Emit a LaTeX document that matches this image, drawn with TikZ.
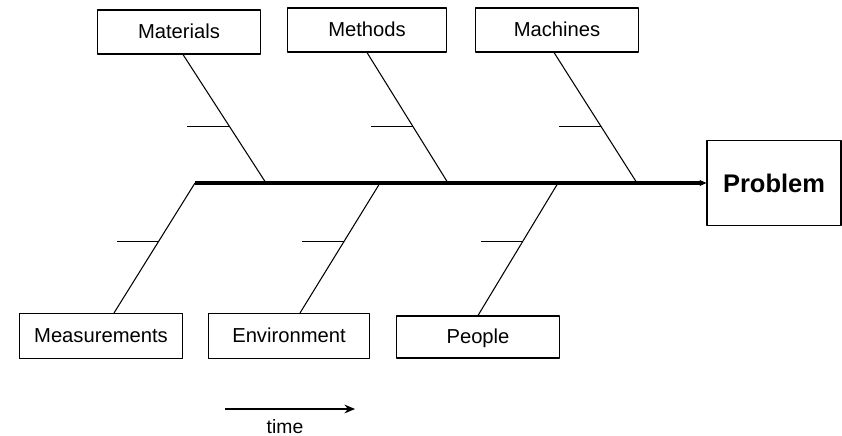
\documentclass[tikz,border=0pt]{standalone}
\usepackage{fontspec}
\setmainfont{Liberation Sans}
\usetikzlibrary{arrows.meta}
\tikzset{
  cause/.style={draw, line width=0.6pt, minimum width=3.26cm, minimum height=0.88cm, inner sep=0pt, text height=1.4ex, text depth=0.1ex, font=\fontsize{11.5}{13}\selectfont},
  bone/.style={line width=0.6pt},
  spine/.style={line width=1.8pt}
}
\begin{document}
\begin{tikzpicture}[x=0.02cm, y=-0.02cm, line join=round, >={Stealth[length=6pt,width=5pt]}]
		\useasboundingbox (0,0) rectangle (842,436);
		% boxes
		\node[cause] (mat) at (179,32) {Materials};
		\node[cause, minimum width=3.18cm] (met) at (367,30) {Methods};
		\node[cause] (mac) at (557,30) {Machines};
		\node[cause, minimum height=0.9cm] (mea) at (101,336) {Measurements};
		\node[cause, minimum width=3.22cm, minimum height=0.9cm] (env) at (289,336) {Environment};
		\node[cause, minimum height=0.84cm] (peo) at (478,337) {People};
		\node[draw, line width=0.6pt, minimum width=2.68cm, minimum height=1.7cm, font=\fontsize{14.5}{16}\selectfont\bfseries] (prob) at (774,183) {Problem};
		% spine
		\coordinate (tail) at (195,183);
		\coordinate (jmat) at (266,183);
		\coordinate (jmet) at (448,183);
		\coordinate (jmac) at (637,183);
		\coordinate (jenv) at (380,183);
		\coordinate (jpeo) at (558,183);
		\draw[spine,-{Stealth[length=4pt,width=3.5pt]}] (tail) -- (prob.west);
		% bones
		\draw[bone] ([xshift=0.08cm]mat.south) -- coordinate[pos=.56] (mat1) (jmat);
		\draw[bone] (met.south) -- coordinate[pos=.565] (met1) (jmet);
		\draw[bone] ([xshift=-0.06cm]mac.south) -- coordinate[pos=.565] (mac1) (jmac);
		\draw[bone] ([xshift=0.26cm]mea.north) -- coordinate[pos=.55] (mea1) (tail);
		\draw[bone] ([xshift=0.22cm]env.north) -- coordinate[pos=.55] (env1) (jenv);
		\draw[bone] (peo.north) -- coordinate[pos=.56] (peo1) (jpeo);
		\foreach \b in {mat1,met1,mac1,mea1,env1,peo1}
			\draw[bone] (\b) -- ++(-42,0);
		% time
		\coordinate (t0) at (225,409);
		\coordinate (t1) at (355,409);
		\draw[bone,->] (t0) -- (t1);
		\node[font=\fontsize{11}{13}\selectfont] (time) at (285,427) {time};
\end{tikzpicture}
\end{document}
